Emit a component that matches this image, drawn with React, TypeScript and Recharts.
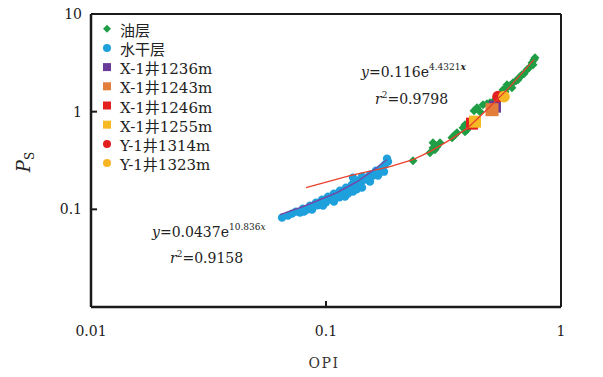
import { ScatterChart, Scatter, XAxis, YAxis, ReferenceLine } from 'recharts';

// 油层 (OPI, Ps)
const oilLayer = [
  { x: 0.2346, y: 0.315 }, { x: 0.2771, y: 0.3804 }, { x: 0.2853, y: 0.428 }, { x: 0.2909, y: 0.4085 },
  { x: 0.2853, y: 0.4817 }, { x: 0.3055, y: 0.4817 }, { x: 0.2967, y: 0.4383 }, { x: 0.3437, y: 0.5419 },
  { x: 0.3539, y: 0.5815 }, { x: 0.347, y: 0.5547 }, { x: 0.3609, y: 0.6097 }, { x: 0.3828, y: 0.6863 },
  { x: 0.3904, y: 0.6241 }, { x: 0.3981, y: 0.6544 }, { x: 0.3904, y: 0.7359 }, { x: 0.4264, y: 1.024 },
  { x: 0.4522, y: 1.0 }, { x: 0.4391, y: 1.099 }, { x: 0.4657, y: 1.179 }, { x: 0.4986, y: 1.236 },
  { x: 0.4843, y: 1.207 }, { x: 0.5237, y: 1.327 }, { x: 0.55, y: 1.493 }, { x: 0.5665, y: 1.68 },
  { x: 0.5777, y: 1.602 }, { x: 0.5891, y: 1.761 }, { x: 0.5891, y: 1.889 }, { x: 0.6067, y: 1.845 },
  { x: 0.6185, y: 1.761 }, { x: 0.6248, y: 1.981 }, { x: 0.6435, y: 2.076 }, { x: 0.6562, y: 2.125 },
  { x: 0.6692, y: 2.282 }, { x: 0.6823, y: 2.392 }, { x: 0.696, y: 2.448 }, { x: 0.7168, y: 2.691 },
  { x: 0.7311, y: 2.821 }, { x: 0.7527, y: 3.174 }, { x: 0.7603, y: 3.027 }, { x: 0.7751, y: 3.571 },
  { x: 0.7677, y: 3.406 },
];

// 水干层
const dryLayer = [
  { x: 0.065, y: 0.0822 }, { x: 0.0689, y: 0.0862 }, { x: 0.0717, y: 0.0904 }, { x: 0.0745, y: 0.0947 },
  { x: 0.0775, y: 0.0925 }, { x: 0.0798, y: 0.1017 }, { x: 0.0806, y: 0.0947 }, { x: 0.083, y: 0.0993 },
  { x: 0.0845, y: 0.103 }, { x: 0.0855, y: 0.1091 }, { x: 0.0872, y: 0.0993 }, { x: 0.0881, y: 0.1066 },
  { x: 0.0907, y: 0.1171 }, { x: 0.092, y: 0.11 }, { x: 0.0934, y: 0.1144 }, { x: 0.0962, y: 0.1257 },
  { x: 0.0971, y: 0.1091 }, { x: 0.099, y: 0.1227 }, { x: 0.1, y: 0.118 }, { x: 0.102, y: 0.1349 },
  { x: 0.105, y: 0.1317 }, { x: 0.107, y: 0.125 }, { x: 0.1081, y: 0.1448 }, { x: 0.1081, y: 0.1199 },
  { x: 0.1114, y: 0.1414 }, { x: 0.114, y: 0.133 }, { x: 0.1147, y: 0.1553 }, { x: 0.1181, y: 0.1518 },
  { x: 0.1205, y: 0.1349 }, { x: 0.1217, y: 0.1668 }, { x: 0.124, y: 0.145 }, { x: 0.1253, y: 0.1628 },
  { x: 0.129, y: 0.179 }, { x: 0.1303, y: 0.2111 }, { x: 0.1303, y: 0.1518 }, { x: 0.1329, y: 0.1748 },
  { x: 0.135, y: 0.16 }, { x: 0.1368, y: 0.1967 }, { x: 0.1409, y: 0.1876 }, { x: 0.1423, y: 0.2162 },
  { x: 0.1423, y: 0.1668 }, { x: 0.1451, y: 0.2111 }, { x: 0.1494, y: 0.2014 }, { x: 0.1539, y: 0.2265 },
  { x: 0.1539, y: 0.1921 }, { x: 0.1585, y: 0.2213 }, { x: 0.1632, y: 0.2489 }, { x: 0.1664, y: 0.2213 },
  { x: 0.168, y: 0.2374 }, { x: 0.1731, y: 0.2672 }, { x: 0.1765, y: 0.243 }, { x: 0.1782, y: 0.2868 },
  { x: 0.1818, y: 0.3303 }, { x: 0.1836, y: 0.3078 },
];

// 单井样品
const x1236 = [{ x: 0.5237, y: 1.125 }];
const x1243 = [{ x: 0.5086, y: 1.048 }];
const x1246 = [{ x: 0.418, y: 0.754 }];
const x1255 = [{ x: 0.4306, y: 0.79 }];
const y1314 = [{ x: 0.5393, y: 1.424 }];
const y1323 = [{ x: 0.5721, y: 1.424 }];

// 拟合线
const oilFit = [
  { x: 0.0822, y: 0.1668 }, { x: 0.1265, y: 0.2213 }, { x: 0.1872, y: 0.2735 }, { x: 0.2346, y: 0.3227 },
  { x: 0.2771, y: 0.3897 }, { x: 0.3437, y: 0.5295 }, { x: 0.402, y: 0.6863 }, { x: 0.4986, y: 1.125 },
  { x: 0.6067, y: 1.803 }, { x: 0.7677, y: 3.406 },
];
const dryFit = [
  { x: 0.0637, y: 0.0883 }, { x: 0.0798, y: 0.1066 }, { x: 0.1114, y: 0.1483 }, { x: 0.1355, y: 0.1921 },
  { x: 0.1539, y: 0.2374 }, { x: 0.1818, y: 0.3227 },
];

const xTicks = [0.01, 0.1, 1];
const yTicks = [0.1, 1, 10];

const FONT = "'DejaVu Serif', 'Noto Sans CJK SC', serif";
const INK = '#1a1a1a';

const diamond = (color: string, r: number) => (p: any) => (
  <polygon points={`${p.cx},${p.cy - r} ${p.cx + r},${p.cy} ${p.cx},${p.cy + r} ${p.cx - r},${p.cy}`} fill={color} />
);
const dot = (color: string, r: number) => (p: any) => <circle cx={p.cx} cy={p.cy} r={r} fill={color} />;
const square = (color: string, s: number) => (p: any) => (
  <rect x={p.cx - s / 2} y={p.cy - s / 2} width={s} height={s} fill={color} />
);
const none = () => <g />;

const legendItems = [
  { name: '油层', color: '#1f9e46', type: 'diamond' },
  { name: '水干层', color: '#1ea0dc', type: 'circle' },
  { name: 'X-1井1236m', color: '#6a3a98', type: 'square' },
  { name: 'X-1井1243m', color: '#e27d3a', type: 'square' },
  { name: 'X-1井1246m', color: '#e2201f', type: 'square' },
  { name: 'X-1井1255m', color: '#f6b823', type: 'square' },
  { name: 'Y-1井1314m', color: '#e2201f', type: 'circle' },
  { name: 'Y-1井1323m', color: '#f6b523', type: 'circle' },
];

function YTick({ x, y, payload }: any) {
  return (
    <g>
      <line x1={x} y1={y} x2={x + 6} y2={y} stroke={INK} strokeWidth={2} />
      <text x={x - 9} y={y} dy={5} textAnchor="end" fontSize={14} fontFamily={FONT} fill={INK}>
        {payload.value}
      </text>
    </g>
  );
}

function XTick({ x, y, payload }: any) {
  return (
    <g>
      <line x1={x} y1={y} x2={x} y2={y - 6} stroke={INK} strokeWidth={2} />
      <text x={x} y={y} dy={29} textAnchor="middle" fontSize={14} fontFamily={FONT} fill={INK}>
        {payload.value}
      </text>
    </g>
  );
}

function LegendMarker({ type, color, cx, cy }: any) {
  if (type === 'diamond') return diamond(color, 4)({ cx, cy });
  if (type === 'circle') return dot(color, 4)({ cx, cy });
  return square(color, 8)({ cx, cy });
}

export default function App() {
  return (
    <div style={{ position: 'absolute', left: 0, top: 0, width: 603, height: 377, background: '#fff' }}>
      <ScatterChart width={603} height={377} margin={{ top: 14, right: 42, bottom: 40, left: 31 }}>
        <XAxis
          type="number"
          dataKey="x"
          scale="log"
          domain={[0.01, 1]}
          ticks={xTicks}
          interval={0}
          allowDataOverflow
          height={30}
          tickSize={0}
          tickMargin={0}
          tickLine={false}
          tick={<XTick />}
          axisLine={{ stroke: INK, strokeWidth: 2.5 }}
        />
        <YAxis
          type="number"
          dataKey="y"
          scale="log"
          domain={[0.01, 10]}
          ticks={yTicks}
          interval={0}
          allowDataOverflow
          width={60}
          tickSize={0}
          tickMargin={0}
          tickLine={false}
          tick={<YTick />}
          axisLine={{ stroke: INK, strokeWidth: 2.5 }}
        />
        <ReferenceLine y={10} stroke={INK} strokeWidth={2} />
        <ReferenceLine x={1} stroke={INK} strokeWidth={2} />
        <Scatter name="水干层" data={dryLayer} shape={dot('#1ea0dc', 4.2)} isAnimationActive={false} />
        <Scatter name="油层" data={oilLayer} shape={diamond('#1f9e46', 4.5)} isAnimationActive={false} />
        <Scatter name="X-1井1236m" data={x1236} shape={square('#6a3a98', 12)} isAnimationActive={false} />
        <Scatter name="X-1井1243m" data={x1243} shape={square('#e27d3a', 13)} isAnimationActive={false} />
        <Scatter name="X-1井1246m" data={x1246} shape={square('#e2201f', 12)} isAnimationActive={false} />
        <Scatter name="X-1井1255m" data={x1255} shape={square('#f6b823', 12)} isAnimationActive={false} />
        <Scatter name="Y-1井1314m" data={y1314} shape={dot('#e2201f', 5.8)} isAnimationActive={false} />
        <Scatter name="Y-1井1323m" data={y1323} shape={dot('#f6b523', 5.8)} isAnimationActive={false} />
        <Scatter data={oilFit} shape={none} line={{ stroke: '#e8412c', strokeWidth: 1.3 }} isAnimationActive={false} />
        <Scatter data={dryFit} shape={none} line={{ stroke: '#7b3fa0', strokeWidth: 1.2 }} isAnimationActive={false} />
      </ScatterChart>

      <svg width={603} height={377} style={{ position: 'absolute', left: 0, top: 0, pointerEvents: 'none' }}>
        {/* 图例 */}
        {legendItems.map((item, i) => {
          const cy = 30.7 + i * 19.2;
          return (
            <g key={item.name}>
              <LegendMarker type={item.type} color={item.color} cx={107} cy={cy - 2} />
              <text x={120} y={cy + 5} fontSize={15} fontFamily={FONT} fill="#222">
                {item.name}
              </text>
            </g>
          );
        })}

        {/* 拟合公式 */}
        <text x={361} y={77} fontSize={14} fontFamily={FONT} fill="#222">
          <tspan fontStyle="italic">y</tspan>=0.116e
          <tspan dy={-7} fontSize={9}>4.4321</tspan>
          <tspan fontSize={9} fontStyle="italic" fontWeight="bold">x</tspan>
        </text>
        <text x={375} y={104} fontSize={14} fontFamily={FONT} fill="#222">
          <tspan fontStyle="italic">r</tspan>
          <tspan dy={-6} fontSize={9}>2</tspan>
          <tspan dy={6}>=0.9798</tspan>
        </text>
        <text x={152} y={237} fontSize={14} fontFamily={FONT} fill="#222">
          <tspan fontStyle="italic">y</tspan>=0.0437e
          <tspan dy={-7} fontSize={9}>10.836</tspan>
          <tspan fontSize={9} fontStyle="italic">x</tspan>
        </text>
        <text x={170} y={263} fontSize={14} fontFamily={FONT} fill="#222">
          <tspan fontStyle="italic">r</tspan>
          <tspan dy={-6} fontSize={9}>2</tspan>
          <tspan dy={6}>=0.9158</tspan>
        </text>

        {/* 坐标轴标题 */}
        <text x={324} y={368} textAnchor="middle" fontSize={14} letterSpacing={1.5} fontFamily={FONT} fill="#333">
          OPI
        </text>
        <text transform="translate(30,162) rotate(-90)" textAnchor="middle" fontFamily={FONT} fill="#222">
          <tspan fontSize={18} fontStyle="italic">P</tspan>
          <tspan dy={4} fontSize={12}>S</tspan>
        </text>
      </svg>
    </div>
  );
}
